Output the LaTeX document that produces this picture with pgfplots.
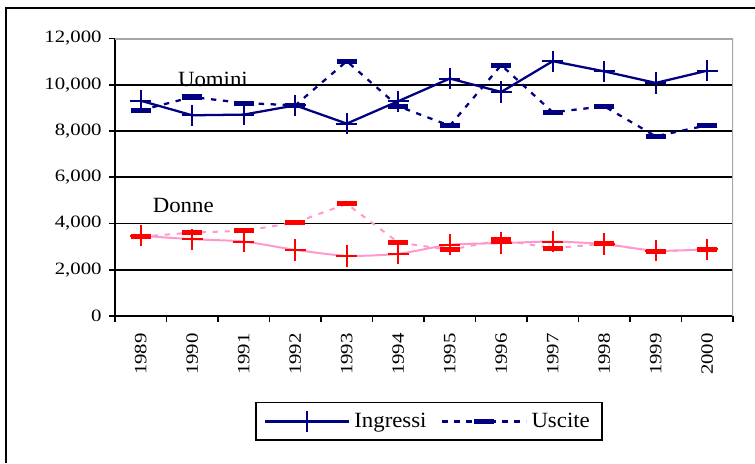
\documentclass[border=0pt]{standalone}
\usepackage{pgfplots}
\pgfplotsset{compat=1.18}
\usepackage{fontspec}
\setmainfont{Liberation Serif}[FakeStretch=1.05]
\newfontfamily\tickfont{Liberation Serif}[FakeStretch=1.2]
\definecolor{navy}{RGB}{0,0,128}
\definecolor{pinkline}{RGB}{255,153,204}
\definecolor{mred}{RGB}{255,0,0}

\begin{document}
\begin{tikzpicture}[font=\fontsize{16.3}{19}\selectfont]
% page = 755x463 px, 1px = 0.75pt, axis box origin at px (115,316)
\useasboundingbox (-86.25pt,-110.25pt) rectangle (480pt,237pt);
\draw[line width=1.5pt] (-81.75pt,-110.25pt) -- (-81.75pt,231pt) -- (480pt,231pt);
\begin{axis}[
    at={(0,0)}, anchor=south west,
    scale only axis, width=463.5pt, height=208.1pt,
    xmin=-0.5, xmax=11.5, ymin=0, ymax=12000,
    axis x line*=bottom, axis y line*=left,
    axis line style={black, line width=1.5pt},
    tick align=outside,
    major tick length=4.5pt,
    tick style={black, line width=1.3pt},
    tick label style={font=\tickfont\fontsize{13}{15}\selectfont},
    xtick={-0.5,0.5,...,11.5}, xticklabels={},
    extra x ticks={0,1,...,11},
    extra x tick labels={1989,1990,1991,1992,1993,1994,1995,1996,1997,1998,1999,2000},
    extra x tick style={major tick length=0pt},
    xticklabel style={yshift=-9.5pt, rotate=90, anchor=east},
    ytick={0,2000,...,12000},
    scaled y ticks=false,
    yticklabel style={xshift=-2pt},
    /pgf/number format/1000 sep={,},
    /pgf/number format/assume math mode=true,
    ymajorgrids, grid style={black, line width=1.3pt},
    legend columns=2,
    legend style={at={(0.508,-0.38)}, anchor=center, draw=black, line width=1.3pt,
        inner xsep=6pt, inner ysep=6pt, font=\fontsize{16.3}{19}\selectfont,
        nodes={inner xsep=3pt, inner ysep=2pt},
        /tikz/every even column/.append style={column sep=8pt}},
    legend image code/.code={\draw[mark repeat=2,mark phase=2]
        plot coordinates {(0pt,0pt) (31.5pt,0pt) (63pt,0pt)};},
]
% Uomini - Ingressi
\addplot[navy, line width=1.7pt, mark=+, mark size=8pt, mark options={solid, line width=1.5pt}]
  coordinates {(0,9310) (1,8680) (2,8710) (3,9110) (4,8320) (5,9290)
               (6,10270) (7,9690) (8,11020) (9,10580) (10,10080) (11,10610)};
\addlegendentry{Ingressi}
% Uomini - Uscite
\addplot[navy, line width=1.7pt, dash pattern=on 4pt off 5pt, mark=-, mark size=7.5pt,
    mark options={solid, line width=3.8pt}]
  coordinates {(0,8900) (1,9470) (2,9210) (3,9110) (4,11020) (5,9070)
               (6,8230) (7,10850) (8,8810) (9,9070) (10,7770) (11,8250)};
\addlegendentry{Uscite}
% Donne - Ingressi
\addplot[pinkline, line width=1.5pt, smooth, tension=0.4, mark=+, mark size=8pt,
    mark options={solid, mred, line width=1.5pt}, forget plot]
  coordinates {(0,3470) (1,3320) (2,3220) (3,2860) (4,2600) (5,2690)
               (6,3080) (7,3150) (8,3220) (9,3110) (10,2820) (11,2890)};
% Donne - Uscite
\addplot[pinkline, line width=1.5pt, dash pattern=on 4pt off 5pt, mark=-, mark size=7.5pt,
    mark options={solid, mred, line width=3.8pt}, forget plot]
  coordinates {(0,3430) (1,3610) (2,3680) (3,4040) (4,4850) (5,3180)
               (6,2860) (7,3290) (8,2930) (9,3120) (10,2790) (11,2890)};
\draw[gray!70, line width=1.5pt] (rel axis cs:0,1) -- (rel axis cs:1,1) -- (rel axis cs:1,0);
\node[anchor=base west, inner sep=0pt] at (axis cs:0.72,9916) {Uomini};
\node[anchor=base west, inner sep=0pt] at (axis cs:0.23,4484) {Donne};
\end{axis}
\end{tikzpicture}
\end{document}
